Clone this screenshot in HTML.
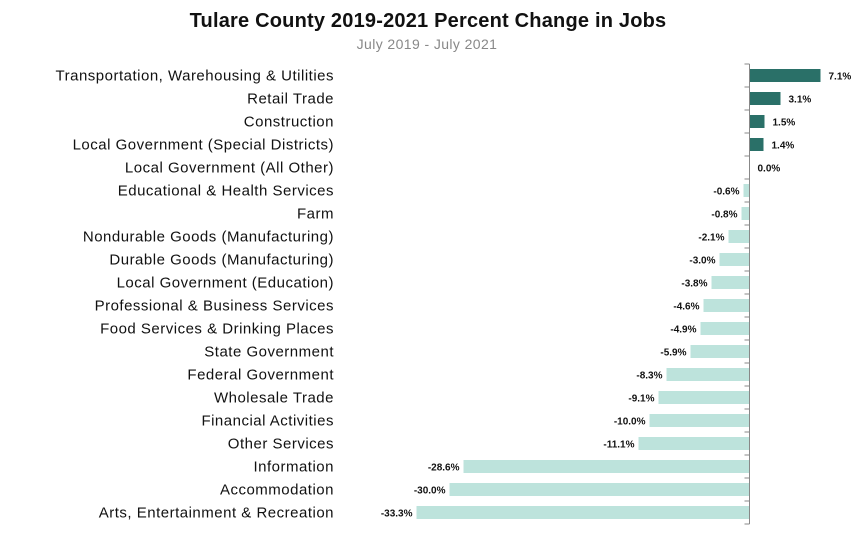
<!DOCTYPE html>
<html><head><meta charset="utf-8"><style>
body{margin:0;background:#fff;width:855px;height:533px;overflow:hidden;font-family:"Liberation Sans",sans-serif}
</style></head><body>
<svg width="855" height="533">
<text x="428" y="27" text-anchor="middle" font-size="20" font-weight="bold" letter-spacing="0.2" fill="#111">Tulare County 2019-2021 Percent Change in Jobs</text>
<text x="427" y="49" text-anchor="middle" font-size="14" letter-spacing="0.4" fill="#888">July 2019 - July 2021</text>
<g id="plot"></g>
</svg>
<script>
const categories=["Transportation, Warehousing & Utilities","Retail Trade","Construction","Local Government (Special Districts)","Local Government (All Other)","Educational & Health Services","Farm","Nondurable Goods (Manufacturing)","Durable Goods (Manufacturing)","Local Government (Education)","Professional & Business Services","Food Services & Drinking Places","State Government","Federal Government","Wholesale Trade","Financial Activities","Other Services","Information","Accommodation","Arts, Entertainment & Recreation"];
const values=[7.1,3.1,1.5,1.4,0.0,-0.6,-0.8,-2.1,-3.0,-3.8,-4.6,-4.9,-5.9,-8.3,-9.1,-10.0,-11.1,-28.6,-30.0,-33.3];
const valueLabels=values.map(v=>v.toFixed(1)+"%");
const NS="http://www.w3.org/2000/svg";
const plotG=document.getElementById("plot");
const x0=749.5, pxPer=10, plotTop=64, step=23;
const xs=v=>x0+v*pxPer;
const yc=i=>plotTop+step*i+step/2;
function mk(t,a){const e=document.createElementNS(NS,t);for(const k in a)e.setAttribute(k,a[k]);plotG.appendChild(e);return e;}
categories.forEach((c,i)=>{
  const v=values[i];
  const r=mk("rect",{x:Math.min(xs(v),xs(0)),y:yc(i)-6.5,width:Math.abs(xs(v)-xs(0)),height:13,fill:v>=0?"#2a7068":"#bde3dc"});
  
  
  const t=mk("text",{x:334,y:yc(i)+5,"text-anchor":"end","font-size":15,"letter-spacing":0.5,fill:"#111"});
  t.textContent=c;
  
  
  const lx=v>=0?xs(v)+8:xs(v)-4;
  const vl=mk("text",{x:lx,y:yc(i)+4,"text-anchor":v>=0?"start":"end","font-size":10,"font-weight":"bold",fill:"#111"});
  vl.textContent=valueLabels[i];
  
  
});
const ax=mk("line",{x1:x0,x2:x0,y1:plotTop,y2:plotTop+step*categories.length,stroke:"#888","stroke-width":1});


for(let k=0;k<=categories.length;k++){
  const tk=mk("line",{x1:x0-5,x2:x0,y1:plotTop+step*k,y2:plotTop+step*k,stroke:"#888","stroke-width":1});
  
  
}
</script>
</body></html>
